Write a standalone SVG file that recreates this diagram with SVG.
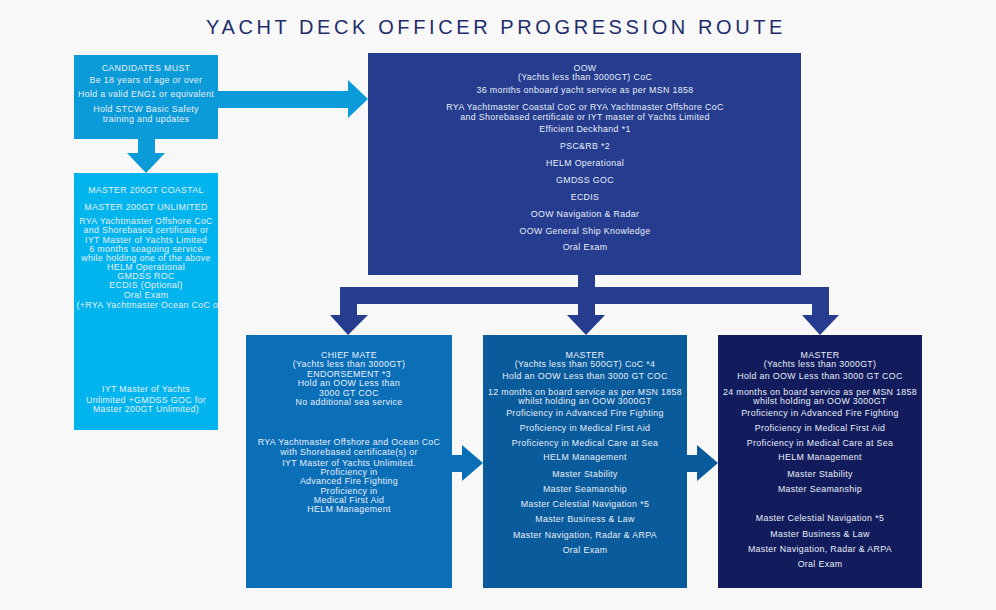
<svg xmlns="http://www.w3.org/2000/svg" width="996" height="610" viewBox="0 0 996 610">
<style>
.t{font-family:"Liberation Sans",Arial,sans-serif;font-size:8.8px;letter-spacing:0.35px;fill:#e8eef8;text-anchor:middle}
.title{font-family:"Liberation Sans",Arial,sans-serif;font-size:20px;fill:#1f2d6c;text-anchor:middle;letter-spacing:3.6px}
</style>
<rect width="996" height="610" fill="#f8f8f8"/>
<text class="title" x="496" y="34">YACHT DECK OFFICER PROGRESSION ROUTE</text>
<g id="connectors">
<path d="M218,91 H348 V80 L368,99 L348,118 V108 H218 Z" fill="#0a9bd8"/>
<path d="M138,139 H155 V153 H165 L146,173 L127,153 H138 Z" fill="#0a9bd8"/>
<path d="M578,275 H595 V287 H829 V315 H839 L820,335 L802,315 H812 V304 H595 V315 H605 L586,335 L567,315 H578 V304 H357 V315 H368 L348,335 L330,315 H340 V287 H578 Z" fill="#253c8f"/>
<path d="M452,455 H462 V445 L483,463 L462,481 V472 H452 Z" fill="#0b6fb8"/>
<path d="M687,455 H697 V445 L718,463 L697,481 V472 H687 Z" fill="#0a5b9c"/>
</g>
<g id="candidates">
<rect x="74" y="55" width="144" height="84" fill="#0a9bd8"/>
<text class="t" x="146" y="71">CANDIDATES MUST</text>
<text class="t" x="146" y="83">Be 18 years of age or over</text>
<text class="t" x="146" y="97">Hold a valid ENG1 or equivalent</text>
<text class="t" x="146" y="112">Hold STCW Basic Safety</text>
<text class="t" x="146" y="122">training and updates</text>
</g>
<g id="master200">
<rect x="74" y="173" width="144" height="257" fill="#00b5ee"/>
<text class="t" x="146" y="193">MASTER 200GT COASTAL</text>
<text class="t" x="146" y="210">MASTER 200GT UNLIMITED</text>
<text class="t" x="146" y="224">RYA Yachtmaster Offshore CoC</text>
<text class="t" x="146" y="233">and Shorebased certificate or</text>
<text class="t" x="146" y="243">IYT Master of Yachts Limited</text>
<text class="t" x="146" y="252">6 months seagoing service</text>
<text class="t" x="146" y="261">while holding one of the above</text>
<text class="t" x="146" y="270">HELM Operational</text>
<text class="t" x="146" y="279">GMDSS ROC</text>
<text class="t" x="146" y="288">ECDIS (Optional)</text>
<text class="t" x="146" y="298">Oral Exam</text>
<text class="t" x="149" y="308">(+RYA Yachtmaster Ocean CoC or</text>
<text class="t" x="146" y="392">IYT Master of Yachts</text>
<text class="t" x="146" y="403">Unlimited +GMDSS GOC for</text>
<text class="t" x="146" y="412">Master 200GT Unlimited)</text>
</g>
<g id="oow">
<rect x="368" y="53" width="433" height="222" fill="#253c8f"/>
<text class="t" x="585" y="71">OOW</text>
<text class="t" x="585" y="80">(Yachts less than 3000GT) CoC</text>
<text class="t" x="585" y="93">36 months onboard yacht service as per MSN 1858</text>
<text class="t" x="585" y="110">RYA Yachtmaster Coastal CoC or RYA Yachtmaster Offshore CoC</text>
<text class="t" x="585" y="120">and Shorebased certificate or IYT master of Yachts Limited</text>
<text class="t" x="585" y="132">Efficient Deckhand *1</text>
<text class="t" x="585" y="149">PSC&amp;RB *2</text>
<text class="t" x="585" y="166">HELM Operational</text>
<text class="t" x="585" y="183">GMDSS GOC</text>
<text class="t" x="585" y="200">ECDIS</text>
<text class="t" x="585" y="217">OOW Navigation &amp; Radar</text>
<text class="t" x="585" y="234">OOW General Ship Knowledge</text>
<text class="t" x="585" y="250">Oral Exam</text>
</g>
<g id="chief-mate">
<rect x="246" y="335" width="206" height="253" fill="#0b6fb8"/>
<text class="t" x="349" y="358">CHIEF MATE</text>
<text class="t" x="349" y="367">(Yachts less than 3000GT)</text>
<text class="t" x="349" y="376.5">ENDORSEMENT *3</text>
<text class="t" x="349" y="386">Hold an OOW Less than</text>
<text class="t" x="349" y="395.5">3000 GT COC</text>
<text class="t" x="349" y="404.5">No additional sea service</text>
<text class="t" x="349" y="445">RYA Yachtmaster Offshore and Ocean CoC</text>
<text class="t" x="349" y="455">with Shorebased certificate(s) or</text>
<text class="t" x="349" y="466">IYT Master of Yachts Unlimited.</text>
<text class="t" x="349" y="475">Proficiency in</text>
<text class="t" x="349" y="484">Advanced Fire Fighting</text>
<text class="t" x="349" y="494">Proficiency in</text>
<text class="t" x="349" y="503">Medical First Aid</text>
<text class="t" x="349" y="512">HELM Management</text>
</g>
<g id="master500">
<rect x="483" y="335" width="204" height="253" fill="#0a5b9c"/>
<text class="t" x="585" y="358">MASTER</text>
<text class="t" x="585" y="367">(Yachts less than 500GT) CoC *4</text>
<text class="t" x="585" y="379">Hold an OOW Less than 3000 GT COC</text>
<text class="t" x="585" y="395">12 months on board service as per MSN 1858</text>
<text class="t" x="585" y="404">whilst holding an OOW 3000GT</text>
<text class="t" x="585" y="416">Proficiency in Advanced Fire Fighting</text>
<text class="t" x="585" y="431">Proficiency in Medical First Aid</text>
<text class="t" x="585" y="446">Proficiency in Medical Care at Sea</text>
<text class="t" x="585" y="460">HELM Management</text>
<text class="t" x="585" y="477">Master Stability</text>
<text class="t" x="585" y="492">Master Seamanship</text>
<text class="t" x="585" y="507">Master Celestial Navigation *5</text>
<text class="t" x="585" y="522">Master Business &amp; Law</text>
<text class="t" x="585" y="538">Master Navigation, Radar &amp; ARPA</text>
<text class="t" x="585" y="553">Oral Exam</text>
</g>
<g id="master3000">
<rect x="718" y="335" width="204" height="253" fill="#121b5c"/>
<text class="t" x="820" y="358">MASTER</text>
<text class="t" x="820" y="367">(Yachts less than 3000GT)</text>
<text class="t" x="820" y="379">Hold an OOW Less than 3000 GT COC</text>
<text class="t" x="820" y="395">24 months on board service as per MSN 1858</text>
<text class="t" x="820" y="404">whilst holding an OOW 3000GT</text>
<text class="t" x="820" y="416">Proficiency in Advanced Fire Fighting</text>
<text class="t" x="820" y="431">Proficiency in Medical First Aid</text>
<text class="t" x="820" y="446">Proficiency in Medical Care at Sea</text>
<text class="t" x="820" y="460">HELM Management</text>
<text class="t" x="820" y="477">Master Stability</text>
<text class="t" x="820" y="492">Master Seamanship</text>
<text class="t" x="820" y="521">Master Celestial Navigation *5</text>
<text class="t" x="820" y="537">Master Business &amp; Law</text>
<text class="t" x="820" y="552">Master Navigation, Radar &amp; ARPA</text>
<text class="t" x="820" y="567">Oral Exam</text>
</g>
</svg>
